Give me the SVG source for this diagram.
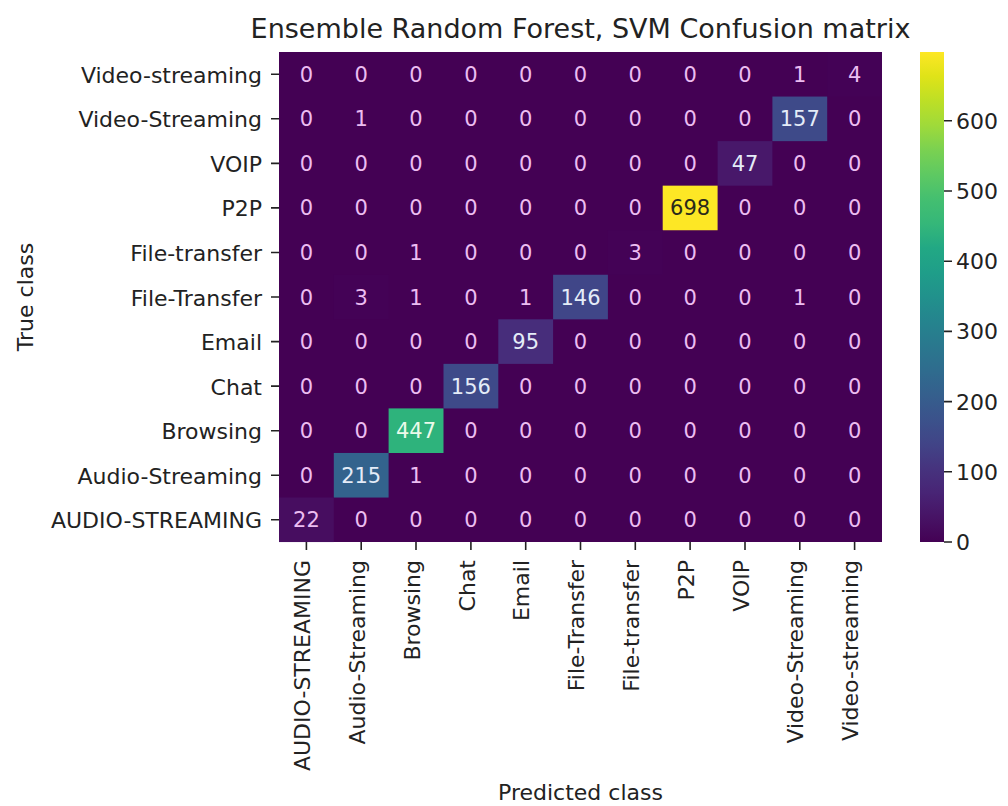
<svg xmlns="http://www.w3.org/2000/svg" width="1008" height="806" viewBox="0 0 1008 806">
  <style>
    text { font-family: "DejaVu Sans", "Liberation Sans", sans-serif; fill: #222; }
    .title { font-size: 27px; }
    .tick { font-size: 22px; }
    .axis { font-size: 22px; }
    .n { font-size: 21px; text-anchor: middle; fill: #ecbdf1; }
    .nb { fill: #e4ecf8; }
    .ng { fill: #eafaea; }
    .nd { fill: #2a2a1a; }
    .tk { stroke: #222; stroke-width: 1.6; }
  </style>
  <defs>
    <linearGradient id="viridis" x1="0" y1="1" x2="0" y2="0">
      <stop offset="0" stop-color="#440154"/>
      <stop offset="0.05" stop-color="#471365"/>
      <stop offset="0.1" stop-color="#482475"/>
      <stop offset="0.15" stop-color="#46337e"/>
      <stop offset="0.2" stop-color="#414487"/>
      <stop offset="0.25" stop-color="#3b528b"/>
      <stop offset="0.3" stop-color="#355f8d"/>
      <stop offset="0.35" stop-color="#2f6c8e"/>
      <stop offset="0.4" stop-color="#2a788e"/>
      <stop offset="0.45" stop-color="#25848e"/>
      <stop offset="0.5" stop-color="#21918c"/>
      <stop offset="0.55" stop-color="#1f9e89"/>
      <stop offset="0.6" stop-color="#22a884"/>
      <stop offset="0.65" stop-color="#35b779"/>
      <stop offset="0.7" stop-color="#44bf70"/>
      <stop offset="0.75" stop-color="#5ec962"/>
      <stop offset="0.8" stop-color="#7ad151"/>
      <stop offset="0.85" stop-color="#9fda3a"/>
      <stop offset="0.9" stop-color="#bddf26"/>
      <stop offset="0.95" stop-color="#dfe318"/>
      <stop offset="1" stop-color="#fde725"/>
    </linearGradient>
  </defs>

  <rect width="1008" height="806" fill="#ffffff"/>

  <text id="title" class="title" x="580.5" y="38" text-anchor="middle">Ensemble Random Forest, SVM Confusion matrix</text>

  <!-- heatmap cells: background is the zero colour, non-zero cells drawn on top -->
  <g id="cells">
    <rect x="279" y="52" width="603" height="490" fill="#440154"/>
    <rect x="827.2" y="52" width="54.8" height="44.6" fill="#440256"/>
    <rect x="772.4" y="96.55" width="54.8" height="44.6" fill="#3e4a89"/>
    <rect x="717.6" y="141.1" width="54.8" height="44.6" fill="#48186a"/>
    <rect x="662.7" y="185.65" width="54.9" height="44.6" fill="#fde725"/>
    <rect x="607.9" y="230.2" width="54.8" height="44.6" fill="#440256"/>
    <rect x="333.8" y="274.75" width="54.8" height="44.6" fill="#440256"/>
    <rect x="553.1" y="274.75" width="54.8" height="44.6" fill="#404688"/>
    <rect x="498.3" y="319.3" width="54.8" height="44.6" fill="#472d7b"/>
    <rect x="443.5" y="363.85" width="54.8" height="44.6" fill="#3e4a89"/>
    <rect x="388.6" y="408.4" width="54.9" height="44.6" fill="#2eb37c"/>
    <rect x="333.8" y="452.95" width="54.8" height="44.6" fill="#33638d"/>
    <rect x="279" y="497.5" width="54.8" height="44.55" fill="#470d60"/>
  </g>

  <!-- cell annotations, one group per true-class row -->
  <g id="values">
    <g transform="translate(0,81.8)">
      <text class="n" x="306.4">0</text><text class="n" x="361.2">0</text><text class="n" x="416">0</text><text class="n" x="470.9">0</text><text class="n" x="525.7">0</text><text class="n" x="580.5">0</text><text class="n" x="635.3">0</text><text class="n" x="690.1">0</text><text class="n" x="745">0</text><text class="n" x="799.8">1</text><text class="n" x="854.6">4</text>
    </g>
    <g transform="translate(0,126.3)">
      <text class="n" x="306.4">0</text><text class="n" x="361.2">1</text><text class="n" x="416">0</text><text class="n" x="470.9">0</text><text class="n" x="525.7">0</text><text class="n" x="580.5">0</text><text class="n" x="635.3">0</text><text class="n" x="690.1">0</text><text class="n" x="745">0</text><text class="n nb" x="799.8">157</text><text class="n" x="854.6">0</text>
    </g>
    <g transform="translate(0,170.9)">
      <text class="n" x="306.4">0</text><text class="n" x="361.2">0</text><text class="n" x="416">0</text><text class="n" x="470.9">0</text><text class="n" x="525.7">0</text><text class="n" x="580.5">0</text><text class="n" x="635.3">0</text><text class="n" x="690.1">0</text><text class="n nb" x="745">47</text><text class="n" x="799.8">0</text><text class="n" x="854.6">0</text>
    </g>
    <g transform="translate(0,215.4)">
      <text class="n" x="306.4">0</text><text class="n" x="361.2">0</text><text class="n" x="416">0</text><text class="n" x="470.9">0</text><text class="n" x="525.7">0</text><text class="n" x="580.5">0</text><text class="n" x="635.3">0</text><text class="n nd" x="690.1">698</text><text class="n" x="745">0</text><text class="n" x="799.8">0</text><text class="n" x="854.6">0</text>
    </g>
    <g transform="translate(0,260)">
      <text class="n" x="306.4">0</text><text class="n" x="361.2">0</text><text class="n" x="416">1</text><text class="n" x="470.9">0</text><text class="n" x="525.7">0</text><text class="n" x="580.5">0</text><text class="n" x="635.3">3</text><text class="n" x="690.1">0</text><text class="n" x="745">0</text><text class="n" x="799.8">0</text><text class="n" x="854.6">0</text>
    </g>
    <g transform="translate(0,304.5)">
      <text class="n" x="306.4">0</text><text class="n" x="361.2">3</text><text class="n" x="416">1</text><text class="n" x="470.9">0</text><text class="n" x="525.7">1</text><text class="n nb" x="580.5">146</text><text class="n" x="635.3">0</text><text class="n" x="690.1">0</text><text class="n" x="745">0</text><text class="n" x="799.8">1</text><text class="n" x="854.6">0</text>
    </g>
    <g transform="translate(0,349.1)">
      <text class="n" x="306.4">0</text><text class="n" x="361.2">0</text><text class="n" x="416">0</text><text class="n" x="470.9">0</text><text class="n nb" x="525.7">95</text><text class="n" x="580.5">0</text><text class="n" x="635.3">0</text><text class="n" x="690.1">0</text><text class="n" x="745">0</text><text class="n" x="799.8">0</text><text class="n" x="854.6">0</text>
    </g>
    <g transform="translate(0,393.6)">
      <text class="n" x="306.4">0</text><text class="n" x="361.2">0</text><text class="n" x="416">0</text><text class="n nb" x="470.9">156</text><text class="n" x="525.7">0</text><text class="n" x="580.5">0</text><text class="n" x="635.3">0</text><text class="n" x="690.1">0</text><text class="n" x="745">0</text><text class="n" x="799.8">0</text><text class="n" x="854.6">0</text>
    </g>
    <g transform="translate(0,438.2)">
      <text class="n" x="306.4">0</text><text class="n" x="361.2">0</text><text class="n ng" x="416">447</text><text class="n" x="470.9">0</text><text class="n" x="525.7">0</text><text class="n" x="580.5">0</text><text class="n" x="635.3">0</text><text class="n" x="690.1">0</text><text class="n" x="745">0</text><text class="n" x="799.8">0</text><text class="n" x="854.6">0</text>
    </g>
    <g transform="translate(0,482.7)">
      <text class="n" x="306.4">0</text><text class="n nb" x="361.2">215</text><text class="n" x="416">1</text><text class="n" x="470.9">0</text><text class="n" x="525.7">0</text><text class="n" x="580.5">0</text><text class="n" x="635.3">0</text><text class="n" x="690.1">0</text><text class="n" x="745">0</text><text class="n" x="799.8">0</text><text class="n" x="854.6">0</text>
    </g>
    <g transform="translate(0,527.3)">
      <text class="n" x="306.4">22</text><text class="n" x="361.2">0</text><text class="n" x="416">0</text><text class="n" x="470.9">0</text><text class="n" x="525.7">0</text><text class="n" x="580.5">0</text><text class="n" x="635.3">0</text><text class="n" x="690.1">0</text><text class="n" x="745">0</text><text class="n" x="799.8">0</text><text class="n" x="854.6">0</text>
    </g>
  </g>

  <!-- y axis: true class -->
  <g id="y-axis">
    <path class="tk" d="M271 74.3H279M271 118.8H279M271 163.4H279M271 207.9H279M271 252.5H279M271 297H279M271 341.6H279M271 386.1H279M271 430.7H279M271 475.2H279M271 519.8H279"/>
    <g class="tick" text-anchor="end">
      <text x="262" y="82.8">Video-streaming</text>
      <text x="262" y="127.3">Video-Streaming</text>
      <text x="262" y="171.9">VOIP</text>
      <text x="262" y="216.4">P2P</text>
      <text x="262" y="261">File-transfer</text>
      <text x="262" y="305.5">File-Transfer</text>
      <text x="262" y="350.1">Email</text>
      <text x="262" y="394.6">Chat</text>
      <text x="262" y="439.2">Browsing</text>
      <text x="262" y="483.7">Audio-Streaming</text>
      <text x="262" y="528.3">AUDIO-STREAMING</text>
    </g>
    <text class="axis" transform="translate(33,297) rotate(-90)" text-anchor="middle">True class</text>
  </g>

  <!-- x axis: predicted class -->
  <g id="x-axis">
    <path class="tk" d="M306.4 542V550M361.2 542V550M416 542V550M470.9 542V550M525.7 542V550M580.5 542V550M635.3 542V550M690.1 542V550M745 542V550M799.8 542V550M854.6 542V550"/>
    <g class="tick" text-anchor="end">
      <text transform="translate(310,560) rotate(-90)">AUDIO-STREAMING</text>
      <text transform="translate(364.8,560) rotate(-90)">Audio-Streaming</text>
      <text transform="translate(419.6,560) rotate(-90)">Browsing</text>
      <text transform="translate(474.5,560) rotate(-90)">Chat</text>
      <text transform="translate(529.3,560) rotate(-90)">Email</text>
      <text transform="translate(584.1,560) rotate(-90)">File-Transfer</text>
      <text transform="translate(638.9,560) rotate(-90)">File-transfer</text>
      <text transform="translate(693.7,560) rotate(-90)">P2P</text>
      <text transform="translate(748.6,560) rotate(-90)">VOIP</text>
      <text transform="translate(803.4,560) rotate(-90)">Video-Streaming</text>
      <text transform="translate(858.2,560) rotate(-90)">Video-streaming</text>
    </g>
    <text class="axis" x="580.5" y="800" text-anchor="middle">Predicted class</text>
  </g>

  <!-- colour bar, 0 to 698 -->
  <g id="colorbar">
    <rect x="920" y="52" width="24" height="490" fill="url(#viridis)"/>
    <path class="tk" d="M944 542H952M944 471.8H952M944 401.6H952M944 331.4H952M944 261.2H952M944 191H952M944 120.8H952"/>
    <g class="tick">
      <text x="956" y="550">0</text>
      <text x="956" y="479.8">100</text>
      <text x="956" y="409.6">200</text>
      <text x="956" y="339.4">300</text>
      <text x="956" y="269.2">400</text>
      <text x="956" y="199">500</text>
      <text x="956" y="128.8">600</text>
    </g>
  </g>
</svg>
